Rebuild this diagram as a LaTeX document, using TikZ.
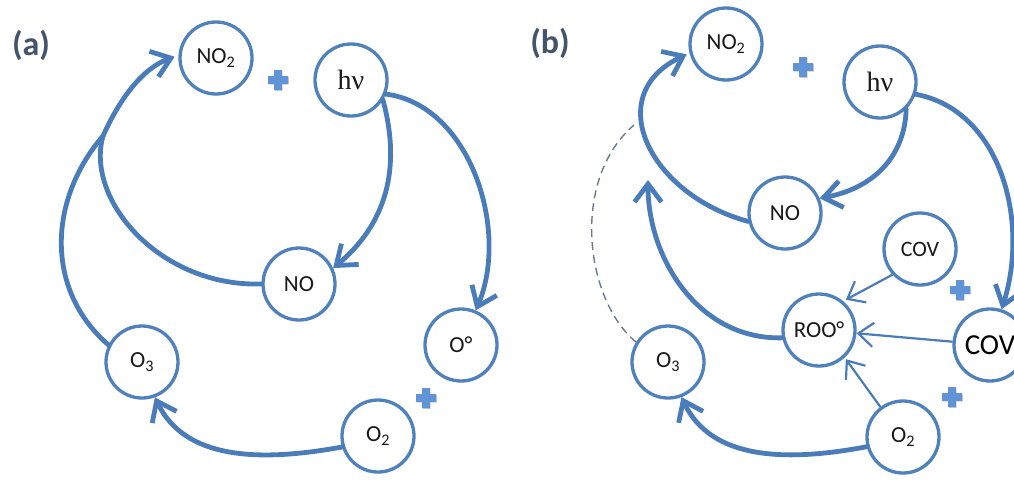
\documentclass[tikz,border=0pt]{standalone}
\usepackage{fontspec}
\setmainfont{Carlito}
\newfontfamily\serifgr{Liberation Serif}
\usetikzlibrary{arrows.meta,shadows}
\definecolor{cblue}{RGB}{79,129,189}
\definecolor{ablue}{RGB}{74,124,186}
\definecolor{pblue}{RGB}{96,148,215}
\definecolor{lblc}{RGB}{68,84,106}
\definecolor{dgray}{RGB}{110,120,140}
\tikzset{
  species/.style={circle, draw=cblue, line width=3.3pt, fill=white,
    minimum size=72pt, inner sep=0pt, text=black!90,
    font=\fontsize{23}{26}\selectfont,
    drop shadow={shadow xshift=1pt, shadow yshift=-1.5pt, fill=black, opacity=0.15}},
  panellabel/.style={text=lblc, font=\fontsize{34}{38}\selectfont\bfseries},
  thick arrow/.style={draw=ablue, line width=4.8pt, line cap=round,
    -{Straight Barb[length=18pt,width=27pt]}},
  thick line/.style={draw=ablue, line width=4.8pt, line cap=round},
  thin arrow/.style={draw=ablue, line width=2.2pt,
    -{Straight Barb[length=15pt,width=24pt]}},
  dashline/.style={draw=dgray, line width=1.4pt, dash pattern=on 8pt off 5pt},
  plussign/.pic={
    \fill[pblue, drop shadow={shadow xshift=0.8pt, shadow yshift=-0.8pt, fill=black, opacity=0.2}]
      (-10pt,-3.8pt) -- (-3.8pt,-3.8pt) -- (-3.8pt,-10pt) -- (3.8pt,-10pt) -- (3.8pt,-3.8pt)
      -- (10pt,-3.8pt) -- (10pt,3.8pt) -- (3.8pt,3.8pt) -- (3.8pt,10pt) -- (-3.8pt,10pt)
      -- (-3.8pt,3.8pt) -- (-10pt,3.8pt) -- cycle;
  }
}
\begin{document}
\begin{tikzpicture}[x=1pt,y=-1pt]
\useasboundingbox (0,0) rectangle (1014,479);

% ---------- panel (a) ----------
\node[panellabel] (la) at (31,45) {(a)};
\node[species] (NOa2) at (216,58) {NO\textsubscript{2}};
\node[species, font=\fontsize{28}{30}\selectfont\serifgr] (hva) at (351,80) {hν};
\node[species] (NOa) at (299,284) {NO};
\node[species] (Oa) at (461,345) {O°};
\node[species] (O3a) at (142,362) {O\textsubscript{3}};
\node[species] (O2a) at (378,436) {O\textsubscript{2}};
\pic at (278,80) {plussign};
\pic at (426,398) {plussign};

\draw[thick arrow] (hva.-32) .. controls (402,170) and (385,225) .. (NOa.25);
\draw[thick arrow] (hva.-22) .. controls (470,105) and (510,230) .. (Oa.67);
\coordinate (ma) at (103,136);
\draw[thick line] (NOa.west) .. controls (160,287) and (85,200) .. (ma);
\draw[thick line] (O3a.153) .. controls (45,290) and (48,200) .. (ma);
\draw[thick arrow, shorten >=4pt] (ma) .. controls (120,98) and (143,68) .. (NOa2.176);
\draw[thick arrow] (O2a.197) .. controls (260,462) and (185,460) .. (O3a.-70);

% ---------- panel (b) ----------
\node[panellabel] (lb) at (550,43) {(b)};
\node[species] (NOb2) at (726,44) {NO\textsubscript{2}};
\node[species, font=\fontsize{28}{30}\selectfont\serifgr] (hvb) at (880,82) {hν};
\node[species] (NOb) at (785,213) {NO};
\node[species, font=\fontsize{22}{25}\selectfont] (COVs) at (920,249) {COV};
\node[species, font=\fontsize{29}{32}\selectfont, text=black] (COVb) at (990,345) {COV};
\node[species] (ROO) at (819,330) {ROO°};
\node[species] (O3b) at (668,362) {O\textsubscript{3}};
\node[species] (O2b) at (903,437) {O\textsubscript{2}};
\pic at (803,67) {plussign};
\pic at (960,290) {plussign};
\pic at (952,397) {plussign};

\draw[thick arrow] (hvb.-46) .. controls (905,155) and (875,188) .. (NOb.23);
\draw[thick arrow] (hvb.-19) .. controls (1000,110) and (1030,220) .. (COVb.72);
\draw[thick arrow, shorten >=3pt] (NOb.193) .. controls (650,195) and (600,95) .. (NOb2.194);
\coordinate (tipb) at (648,180);
\draw[thick arrow] (ROO.192) .. controls (700,340) and (648,260) .. (tipb);
\coordinate (dend) at (634,125);
\draw[dashline] (O3b.148) .. controls (585,300) and (570,180) .. (dend);
\draw[thin arrow, shorten >=3pt] (COVs.223) -- (ROO.50);
\draw[thin arrow] (COVb) -- (ROO);
\draw[thin arrow, shorten >=2pt] (O2b.127) -- (ROO.-47);
\draw[thick arrow] (O2b.195) .. controls (786,462) and (711,460) .. (O3b.-69);
\end{tikzpicture}
\end{document}
